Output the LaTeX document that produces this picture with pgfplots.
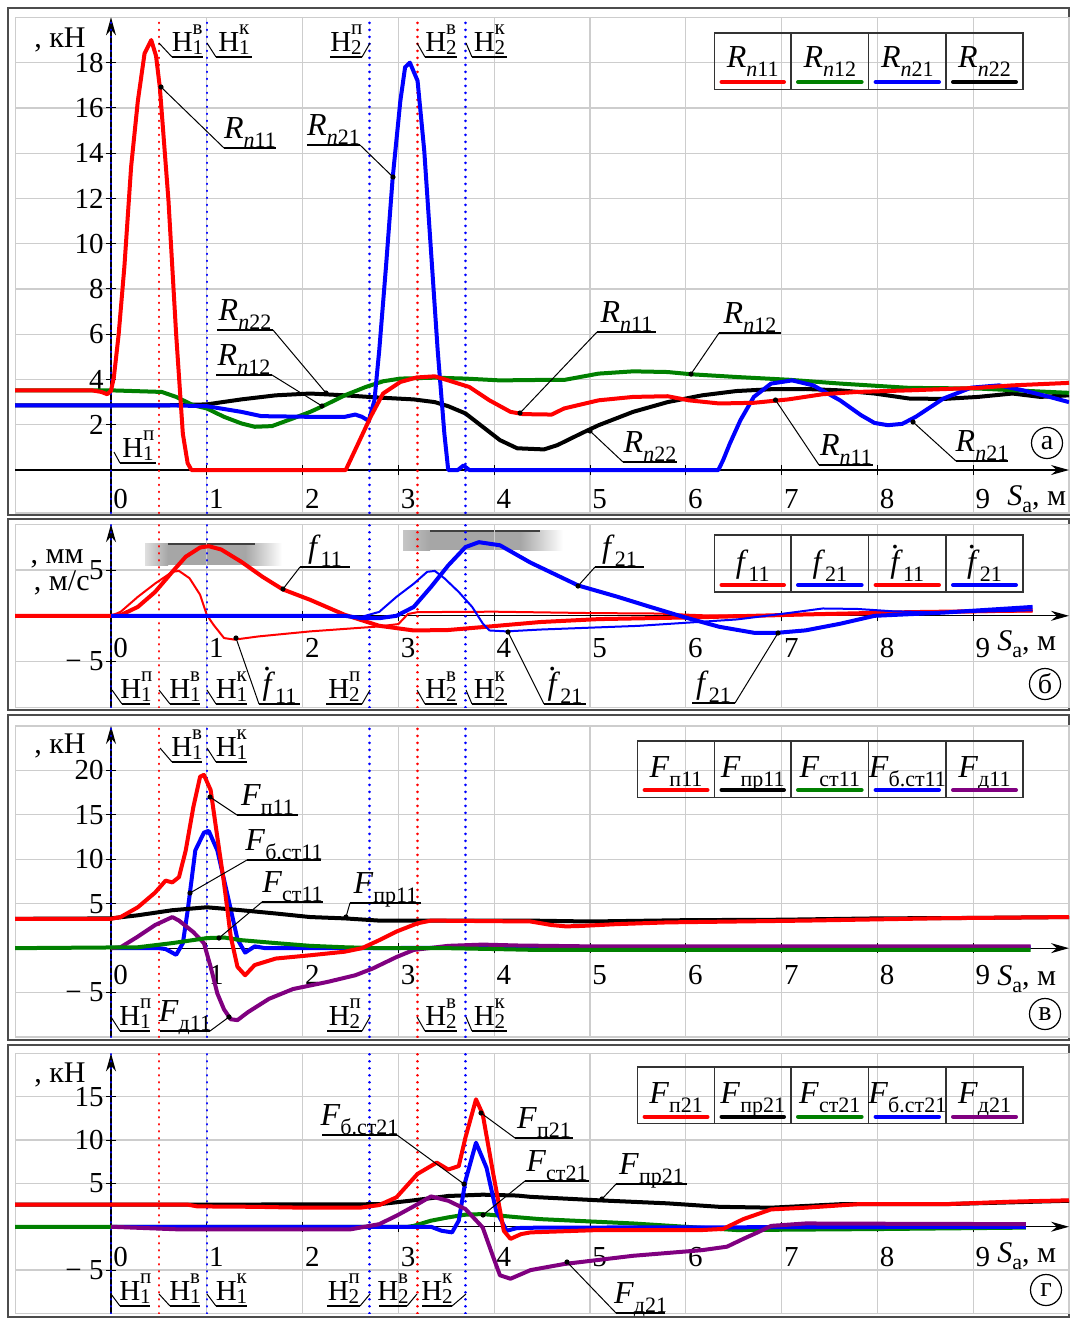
\documentclass[border=0pt]{standalone}
\usepackage{fontspec}
\setmainfont{Liberation Serif}
\usepackage{pgfplots}
\pgfplotsset{compat=1.18}
\usetikzlibrary{arrows.meta}
\definecolor{cR}{RGB}{255,0,0}
\definecolor{cG}{RGB}{0,128,0}
\definecolor{cB}{RGB}{0,0,255}
\definecolor{cP}{RGB}{128,0,128}
\definecolor{grd}{RGB}{205,205,205}
\newcommand\fs[1]{\fontsize{#1}{#1}\selectfont}
\newcommand\sub[1]{\raisebox{-4.5pt}{\fs{11}#1}}
\newcommand\Rl[1]{{\fs{16}\textit{R}\sub{\textit{n}#1}}}
\newcommand\Fl[1]{{\fs{16}\textit{F}\sub{#1}}}
\newcommand\fl[1]{{\fs{16}\textit{f}\sub{#1}}}
\newcommand\fdot{\textit{f}\llap{\raisebox{0.72em}{\textit{.}}\hspace{0.1em}}}
\newcommand\fdl[1]{{\fs{16}\fdot\sub{#1}}}
\newcommand\Hl[2]{{\fs{14.5}Н\rlap{\raisebox{8.5pt}{\fs{10.5}#2}}\raisebox{-1.5pt}{\fs{10.5}#1}}}
\newcommand\Sa{{\fs{15}\textit{S}\raisebox{-3.5pt}{\fs{11}а}, м}}
% callout with dot: dotx doty ulx1 ulx2 uly attachx text
\newcommand\co[7]{\draw[line width=0.5pt] (#1,#2) -- (#6,#5); \draw[line width=0.6pt] (#3,#5) -- (#4,#5); \fill (#1,#2) circle (1.3pt); \node[anchor=base,inner sep=0pt] at ({(#3+#4)/2},{#5-10}) {#7};}
% Н label: startx starty ulx1 ulx2 uly attachx text
\newcommand\hn[7]{\draw[line width=0.5pt] (#1,#2) -- (#6,#5); \draw[line width=0.6pt] (#3,#5) -- (#4,#5); \node[anchor=base,inner sep=0pt] at ({(#3+#4)/2},{#5-6}) {#7};}
% legend cell: xl xr ybase yline color text
\newcommand\lc[6]{\node[anchor=base,inner sep=0pt] at ({(#1+#2)/2},#3) {#6}; \draw[#5, line width=2pt, line cap=round] ({#1+7},#4) -- ({#2-7},#4);}
\newcommand\vlines[2]{%
 \draw[cB, line width=1.3pt, line cap=round, dash pattern=on 0.1pt off 3.4pt] (axis cs:0,#1) -- (axis cs:0,#2);
 \draw[cR, line width=1.3pt, line cap=round, dash pattern=on 0.1pt off 3.4pt] (axis cs:0.5,#1) -- (axis cs:0.5,#2);
 \draw[cB, line width=1.3pt, line cap=round, dash pattern=on 0.1pt off 3.4pt] (axis cs:1,#1) -- (axis cs:1,#2);
 \draw[cB, line width=1.3pt, line cap=round, dash pattern=on 0.1pt off 3.4pt] (axis cs:2.7,#1) -- (axis cs:2.7,#2);
 \draw[cR, line width=1.3pt, line cap=round, dash pattern=on 0.1pt off 3.4pt] (axis cs:3.2,#1) -- (axis cs:3.2,#2);
 \draw[cB, line width=1.3pt, line cap=round, dash pattern=on 0.1pt off 3.4pt] (axis cs:3.7,#1) -- (axis cs:3.7,#2);}
\pgfplotsset{
 panel/.style={
  scale only axis, width=526.9pt, anchor=south west,
  xmin=-1, xmax=10,
  axis lines=middle,
  axis line style={black, line width=0.6pt},
  x axis line style={-{Stealth[length=9pt,width=5pt]}},
  y axis line style={-{Stealth[length=9pt,width=5pt]}},
  xtick={0,...,9},
  xticklabels={0,1,2,3,4,5,6,7,8,9},
  grid=major, grid style={grd, line width=0.6pt},
  tick style={black, line width=0.5pt},
  major tick length=5pt,
  tick label style={font=\fs{14.5}},
  xticklabel style={anchor=north west, inner sep=0pt, xshift=1pt},
  yticklabel style={anchor=east, inner sep=1pt},
  hide obscured x ticks=false, hide obscured y ticks=false,
  every axis plot/.append style={line join=round},
 },
 thk/.style={line width=2pt},
 thn/.style={line width=1pt},
}
\begin{document}
\begin{tikzpicture}
\useasboundingbox (0,0) rectangle (535.5pt,-659pt);
\fill[white] (0,0) rectangle (535.5pt,-659pt);
\begin{scope}[x=0.5pt,y=-0.5pt]
 \draw[black!70, line width=1.1pt] (8,8) rectangle (1069,515);
 \draw[black!70, line width=1.1pt] (8,519) rectangle (1069,710);
 \draw[black!70, line width=1.1pt] (8,715) rectangle (1069,1040);
 \draw[black!70, line width=1.1pt] (8,1045) rectangle (1069,1317);
 \draw[grd, line width=0.7pt] (15.2,17.4) rectangle (1069,513);
 \draw[grd, line width=0.7pt] (15.2,524.3) rectangle (1069,707.4);
 \draw[grd, line width=0.7pt] (15.2,726) rectangle (1069,1037);
 \draw[grd, line width=0.7pt] (15.2,1053.3) rectangle (1069,1313.4);
 % blurred boxes in panel b
 \shade[left color=gray!25, right color=gray!70] (145,543) rectangle (168,565);
 \fill[gray!70] (168,543) rectangle (245,565);
 \shade[left color=gray!70, right color=white] (245,543) rectangle (282,565);
 \draw[black!75, line width=1.2pt] (168,544) -- (255,544);
 \shade[left color=gray!45, right color=gray!70] (403,530) rectangle (430,550);
 \fill[gray!70] (430,530) rectangle (520,550);
 \shade[left color=gray!70, right color=white] (520,530) rectangle (563,550);
 \draw[black!75, line width=1.2pt] (430,531) -- (540,531);
\end{scope}

% ---------------- panel a ----------------
\begin{axis}[panel, at={(7.6pt,-256.5pt)}, height=247.8pt, ymin=-1.9, ymax=20,
 ytick={2,4,...,18}, yticklabels={2,4,6,8,10,12,14,16,18},
 xticklabel style={yshift=-7pt}]
\vlines{-1.9}{20}
\addplot[black, thk] coordinates {(-1,2.86) (0.6,2.86) (1.0,2.9) (1.36,3.12) (1.72,3.3) (2.08,3.38) (2.44,3.3) (2.8,3.2) (3.16,3.12) (3.38,3.0) (3.52,2.82) (3.7,2.5) (3.88,1.91) (4.06,1.32) (4.24,0.96) (4.52,0.91) (4.66,1.1) (4.91,1.62) (5.09,1.98) (5.45,2.57) (5.81,3.0) (6.17,3.3) (6.53,3.49) (6.89,3.57) (7.25,3.58) (7.61,3.52) (7.97,3.38) (8.33,3.16) (8.69,3.14) (9.05,3.23) (9.41,3.38) (9.7,3.23) (10,3.3)};
\addplot[cG, thk] coordinates {(-1,3.52) (0,3.52) (0.53,3.45) (0.68,3.23) (0.86,2.86) (1.0,2.72) (1.18,2.35) (1.36,2.06) (1.5,1.91) (1.68,1.94) (1.9,2.28) (2.08,2.57) (2.23,2.86) (2.44,3.3) (2.66,3.67) (2.84,3.92) (3.02,4.04) (3.38,4.08) (3.7,4.04) (4.06,3.96) (4.48,3.98) (4.73,3.98) (5.09,4.26) (5.45,4.36) (5.81,4.33) (6.06,4.23) (6.53,4.11) (7.07,3.99) (7.61,3.82) (8.33,3.63) (9.05,3.6) (9.59,3.49) (10,3.41)};
\addplot[cB, thk] coordinates {(-1,2.86) (0.6,2.86) (1.0,2.82) (1.36,2.57) (1.57,2.38) (2.08,2.35) (2.44,2.35) (2.55,2.45) (2.62,2.35) (2.69,2.17) (2.75,3.08) (2.8,5.29) (2.87,8.96) (2.94,12.9) (3.02,16.3) (3.07,17.8) (3.12,18.0) (3.2,17.2) (3.27,14.1) (3.34,9.7) (3.41,5.29) (3.48,1.6) (3.52,0) (3.62,0) (3.68,0.2) (3.74,0) (6.34,0) (6.39,0.44) (6.46,1.17) (6.57,2.2) (6.71,3.23) (6.89,3.82) (7.11,3.96) (7.33,3.74) (7.61,3.08) (7.83,2.42) (7.97,2.08) (8.11,1.98) (8.26,2.04) (8.4,2.35) (8.69,3.16) (8.98,3.64) (9.27,3.74) (9.52,3.52) (9.77,3.26) (10,3.0)};
\addplot[cR, thk] coordinates {(-1,3.52) (-0.2,3.52) (-0.1,3.45) (-0.04,3.35) (0,3.5) (0.03,4.1) (0.08,6.0) (0.14,9.0) (0.21,13.4) (0.28,16.3) (0.35,18.4) (0.42,19.0) (0.47,18.3) (0.51,16.9) (0.6,11.9) (0.68,6.0) (0.75,1.6) (0.8,0.3) (0.84,0) (2.45,0) (2.58,1.17) (2.71,2.35) (2.84,3.38) (3.02,3.89) (3.19,4.09) (3.38,4.14) (3.52,3.96) (3.74,3.67) (3.95,3.08) (4.17,2.57) (4.3,2.47) (4.6,2.45) (4.73,2.72) (5.09,3.08) (5.45,3.23) (5.81,3.26) (6.03,3.08) (6.35,2.94) (6.71,2.97) (7.07,3.12) (7.43,3.35) (7.79,3.45) (8.33,3.52) (9.05,3.63) (9.41,3.74) (10,3.85)};
\end{axis}

% ---------------- panel b ----------------
\begin{axis}[panel, at={(7.6pt,-353.7pt)}, height=91.6pt, ymin=-10, ymax=10,
 ytick={-5,5}, yticklabels={−\ 5,5},
 xticklabel style={yshift=-8.5pt}]
\vlines{-10}{10}
\addplot[cR, thk] coordinates {(-1,0) (0,0) (0.1,0.07) (0.28,0.97) (0.46,2.6) (0.64,4.8) (0.78,6.45) (0.93,7.46) (1.02,7.6) (1.15,7.24) (1.36,5.9) (1.58,4.27) (1.79,2.9) (2.08,1.74) (2.44,0.11) (2.8,-1.09) (3.16,-1.6) (3.52,-1.55) (3.88,-1.23) (4.48,-0.68) (5.09,-0.36) (6.17,-0.15) (7.25,0.15) (8.33,0.4) (9.62,0.58)};
\addplot[cR, thn] coordinates {(0,0) (0.1,0.43) (0.28,2.07) (0.46,3.52) (0.64,4.8) (0.71,4.9) (0.82,4.1) (0.93,2.3) (1.0,0.1) (1.07,-0.98) (1.18,-2.43) (1.29,-2.6) (1.54,-2.25) (2.08,-1.7) (2.8,-1.16) (3.0,-0.9) (3.1,0.2) (3.2,0.4) (4.0,0.45) (5.0,0.3) (5.7,0.25) (6.2,0.05) (7.5,0.1) (8.5,0.3) (9.62,0.5)};
\addplot[cB, thk] coordinates {(0,0) (2.44,0) (2.62,-0.26) (2.8,-0.26) (2.98,0) (3.16,0.97) (3.34,3.15) (3.52,5.5) (3.7,7.5) (3.84,8.04) (4.06,7.7) (4.38,5.8) (4.88,3.3) (5.28,2.1) (5.63,0.97) (5.99,-0.17) (6.35,-1.2) (6.71,-1.85) (6.96,-1.85) (7.25,-1.59) (7.61,-0.87) (7.97,0) (8.69,0.35) (9.62,0.97)};
\addplot[cB, thn] coordinates {(0,0) (2.62,-0.1) (2.8,0.43) (2.98,2.07) (3.16,3.5) (3.3,4.8) (3.38,4.9) (3.48,4.1) (3.63,2.6) (3.77,0.97) (3.88,-0.83) (3.95,-1.6) (4.13,-1.7) (4.48,-1.5) (5.5,-1.1) (6.53,-0.4) (7.07,0.3) (7.43,0.8) (7.79,0.75) (8.15,0.5) (8.69,0.35) (9.62,0.6)};
\end{axis}

% ---------------- panel v ----------------
\begin{axis}[panel, at={(7.6pt,-518.5pt)}, height=155.5pt, ymin=-10, ymax=25,
 ytick={-5,5,10,15,20}, yticklabels={−\ 5,5,10,15,20},
 xticklabel style={yshift=-6pt}]
\vlines{-10}{25}
\addplot[cB, thk] coordinates {(0,0) (0.5,0) (0.57,-0.1) (0.68,-0.75) (0.75,0.56) (0.8,4.2) (0.88,11.0) (0.97,13.0) (1.02,13.2) (1.11,11.0) (1.22,5.8) (1.32,1.0) (1.4,-0.5) (1.5,0.2) (1.61,0) (9.6,0.1)};
\addplot[cP, thk] coordinates {(0,0) (0.1,0.1) (0.28,1.3) (0.46,2.6) (0.64,3.5) (0.71,3.1) (0.86,1.8) (0.97,0.56) (1.04,-2.1) (1.11,-5.1) (1.18,-6.9) (1.25,-8.0) (1.32,-8.1) (1.43,-7.2) (1.65,-5.7) (1.9,-4.6) (2.26,-3.8) (2.55,-3.05) (2.73,-2.3) (2.98,-1.0) (3.16,-0.2) (3.52,0.26) (3.88,0.4) (4.24,0.3) (5,0.2) (9.6,0.2)};
\addplot[cG, thk] coordinates {(-1,0) (0.28,0.1) (0.64,0.57) (1.0,1.13) (1.18,1.2) (1.36,0.9) (1.72,0.57) (2.08,0.26) (2.44,0.1) (2.8,0) (3.5,0) (4.0,-0.1) (4.4,-0.19) (9.6,-0.19)};
\addplot[black, thk] coordinates {(-1,3.3) (0,3.35) (0.28,3.7) (0.64,4.27) (1.0,4.6) (1.36,4.27) (1.72,3.9) (2.08,3.5) (2.44,3.35) (2.8,3.1) (4.38,3.1) (5.0,3.0) (6,3.15) (7,3.2) (8,3.35) (9,3.4) (10,3.5)};
\addplot[cR, thk] coordinates {(-1,3.3) (0,3.3) (0.1,3.5) (0.28,4.6) (0.46,6.25) (0.57,7.6) (0.64,7.4) (0.71,8.0) (0.78,11.0) (0.86,15.9) (0.93,19.3) (0.97,19.5) (1.04,17.8) (1.11,12.5) (1.18,7.3) (1.25,1.3) (1.32,-2.1) (1.4,-3.05) (1.5,-1.9) (1.72,-1.17) (2.08,-0.8) (2.44,-0.4) (2.62,0) (2.8,0.9) (2.98,1.87) (3.2,2.8) (3.34,3.1) (4.38,3.0) (4.6,2.6) (4.75,2.45) (4.91,2.5) (5.27,2.7) (5.81,2.9) (7.25,3.1) (8.69,3.37) (10,3.5)};
\end{axis}

% ---------------- panel g ----------------
\begin{axis}[panel, at={(7.6pt,-656.7pt)}, height=130pt, ymin=-10, ymax=20,
 ytick={-5,5,10,15}, yticklabels={−\ 5,5,10,15},
 xticklabel style={yshift=-7.5pt}]
\vlines{-10}{20}
\addplot[black, thk] coordinates {(-1,2.55) (0.9,2.55) (2.8,2.6) (3.16,3.05) (3.52,3.55) (3.88,3.7) (4.24,3.6) (4.38,3.45) (5.09,3.05) (5.81,2.7) (6.35,2.3) (6.89,2.2) (7.61,2.6) (8.69,2.6) (10,3.0)};
\addplot[cG, thk] coordinates {(-1,0) (3.1,0) (3.16,0.1) (3.34,0.7) (3.52,1.08) (3.7,1.4) (3.88,1.46) (4.24,1.1) (4.48,0.88) (5.45,0.38) (6.53,-0.38) (7.97,-0.27) (9.55,-0.1)};
\addplot[cB, thk] coordinates {(0,0) (3.34,0) (3.45,-0.46) (3.56,-0.65) (3.63,0.7) (3.7,5.3) (3.81,9.7) (3.92,6.8) (4.02,1.85) (4.13,-0.46) (4.24,-0.15) (4.48,-0.1) (9.55,0)};
\addplot[cP, thk] coordinates {(0,0) (0.7,-0.3) (2.5,-0.3) (2.8,0.3) (2.98,1.27) (3.2,2.6) (3.34,3.5) (3.52,3.0) (3.7,2.04) (3.88,-0.08) (3.99,-3.5) (4.06,-5.6) (4.17,-6.0) (4.38,-5.0) (4.73,-4.3) (5.45,-3.35) (6.17,-2.7) (6.43,-2.3) (6.6,-1.4) (6.75,-0.65) (6.89,0.1) (7.25,0.38) (7.97,0.35) (9.55,0.3)};
\addplot[cR, thk] coordinates {(-1,2.55) (0.8,2.55) (0.9,2.35) (1.5,2.3) (2.0,2.2) (2.6,2.2) (2.8,2.5) (2.98,3.4) (3.2,6.1) (3.4,7.4) (3.52,6.6) (3.63,7.0) (3.7,10.3) (3.81,14.7) (3.88,13.0) (3.99,6.1) (4.1,-0.46) (4.17,-1.4) (4.28,-0.85) (4.38,-0.65) (5.09,-0.38) (6.17,-0.38) (6.39,-0.25) (6.6,0.88) (6.89,2.0) (7.25,2.2) (7.79,2.6) (8.69,2.6) (9.41,2.9) (10,3.05)};
\end{axis}

% ---------------- annotations ----------------
\begin{scope}[x=0.5pt,y=-0.5pt]
 % axis labels
 \node[anchor=base east, inner sep=0pt] at (86,47) {\fs{15}, кН};
 \node[anchor=base east, inner sep=0pt] at (84,563) {\fs{15}, мм};
 \node[anchor=base east, inner sep=0pt] at (90,590) {\fs{15}, м/с};
 \node[anchor=base east, inner sep=0pt] at (86,753) {\fs{15}, кН};
 \node[anchor=base east, inner sep=0pt] at (86,1082) {\fs{15}, кН};
 \node[anchor=base west, inner sep=0pt] at (1007,505) {\Sa};
 \node[anchor=base west, inner sep=0pt] at (997,650) {\Sa};
 \node[anchor=base west, inner sep=0pt] at (997,985) {\Sa};
 \node[anchor=base west, inner sep=0pt] at (997,1262) {\Sa};
 % circled letters
 \node[draw, circle, line width=0.6pt, minimum size=15.5pt, inner sep=0pt] at (1047,443) {\fs{14}а};
 \node[draw, circle, line width=0.6pt, minimum size=15.5pt, inner sep=0pt] at (1045,684) {\fs{14}б};
 \node[draw, circle, line width=0.6pt, minimum size=15.5pt, inner sep=0pt] at (1045,1014) {\fs{14}в};
 \node[draw, circle, line width=0.6pt, minimum size=15.5pt, inner sep=0pt] at (1046,1290) {\fs{14}г};
 % legend a
 \draw[black!80, line width=0.8pt] (714.5,32.7) rectangle (1023,89.3);
 \foreach \xx in {791,868.6,946} {\draw[black!80, line width=0.8pt] (\xx,32.7) -- (\xx,89.3);}
 \lc{714.5}{791}{67}{82}{cR}{\Rl{11}}
 \lc{791}{868.6}{67}{82}{cG}{\Rl{12}}
 \lc{868.6}{946}{67}{82}{cB}{\Rl{21}}
 \lc{946}{1023}{67}{82}{black}{\Rl{22}}
 % legend b
 \draw[black!80, line width=0.8pt] (714.5,535) rectangle (1023,591.7);
 \foreach \xx in {791,868.6,946} {\draw[black!80, line width=0.8pt] (\xx,535) -- (\xx,591.7);}
 \lc{714.5}{791}{572}{585}{cR}{\fl{11}}
 \lc{791}{868.6}{572}{585}{cB}{\fl{21}}
 \lc{868.6}{946}{572}{585}{cR, line width=1.2pt}{\fdl{11}}
 \lc{946}{1023}{572}{585}{cB, line width=1.2pt}{\fdl{21}}
 % legend v
 \draw[black!80, line width=0.8pt] (637.6,740.7) rectangle (1023,797.3);
 \foreach \xx in {714.5,791,868.6,946} {\draw[black!80, line width=0.8pt] (\xx,740.7) -- (\xx,797.3);}
 \lc{637.6}{714.5}{777}{790}{cR}{\Fl{п11}}
 \lc{714.5}{791}{777}{790}{black}{\Fl{пр11}}
 \lc{791}{868.6}{777}{790}{cG}{\Fl{ст11}}
 \lc{868.6}{946}{777}{790}{cB}{\Fl{б.ст11}}
 \lc{946}{1023}{777}{790}{cP}{\Fl{д11}}
 % legend g
 \draw[black!80, line width=0.8pt] (637.6,1066.7) rectangle (1023,1123.3);
 \foreach \xx in {714.5,791,868.6,946} {\draw[black!80, line width=0.8pt] (\xx,1066.7) -- (\xx,1123.3);}
 \lc{637.6}{714.5}{1103}{1116.7}{cR}{\Fl{п21}}
 \lc{714.5}{791}{1103}{1116.7}{black}{\Fl{пр21}}
 \lc{791}{868.6}{1103}{1116.7}{cG}{\Fl{ст21}}
 \lc{868.6}{946}{1103}{1116.7}{cB}{\Fl{б.ст21}}
 \lc{946}{1023}{1103}{1116.7}{cP}{\Fl{д21}}
 % panel a callouts
 \co{161}{87}{224}{276}{148}{224}{\Rl{11}}
 \co{393}{177}{307}{360}{145}{360}{\Rl{21}}
 \co{326}{393}{217}{273}{330}{273}{\Rl{22}}
 \co{322}{406}{216}{272}{375}{272}{\Rl{12}}
 \co{520}{413}{597}{656}{332}{597}{\Rl{11}}
 \co{691}{374}{719}{781}{333}{719}{\Rl{12}}
 \co{590}{431}{623}{677}{462}{623}{\Rl{22}}
 \co{775.5}{400}{819}{873}{465}{819}{\Rl{11}}
 \co{913}{422}{956}{1008}{461}{956}{\Rl{21}}
 \hn{114}{452}{120}{156}{463}{120}{\Hl{1}{п}}
 \hn{159}{43}{172}{203}{57}{172}{\Hl{1}{в}}
 \hn{207}{43}{216}{252}{57}{216}{\Hl{1}{к}}
 \hn{370}{43}{330}{362}{57}{362}{\Hl{2}{п}}
 \hn{417}{43}{425}{457}{57}{425}{\Hl{2}{в}}
 \hn{466}{43}{472}{507}{57}{472}{\Hl{2}{к}}
 % panel b callouts
 \co{283}{589}{300}{350}{567}{300}{\fl{11}}
 \co{236}{638}{259}{300}{704}{259}{\fdl{11}}
 \co{508}{632}{544}{586}{704}{544}{\fdl{21}}
 \co{578}{586}{595}{644}{567}{595}{\fl{21}}
 \co{778}{633}{692}{735}{703}{735}{\fl{21}}
 \hn{112}{690}{122}{150}{704}{122}{\Hl{1}{п}}
 \hn{159}{690}{170}{200}{704}{170}{\Hl{1}{в}}
 \hn{207}{690}{216}{247}{704}{216}{\Hl{1}{к}}
 \hn{370}{690}{326}{362}{704}{362}{\Hl{2}{п}}
 \hn{417}{690}{425}{457}{704}{425}{\Hl{2}{в}}
 \hn{466}{690}{472}{507}{704}{472}{\Hl{2}{к}}
 % panel v callouts
 \hn{160}{748}{172}{202}{762}{172}{\Hl{1}{в}}
 \hn{207}{748}{216}{247}{762}{216}{\Hl{1}{к}}
 \co{210}{797}{237}{298}{815}{237}{\Fl{п11}}
 \co{190}{893}{247}{321}{860}{247}{\Fl{б.ст11}}
 \co{219}{938}{262}{323}{902}{262}{\Fl{ст11}}
 \co{346}{917}{350}{421}{903}{350}{\Fl{пр11}}
 \co{229}{1017}{160}{210}{1031}{210}{\Fl{д11}}
 \hn{111}{1017}{120}{150}{1031}{120}{\Hl{1}{п}}
 \hn{370}{1017}{327}{362}{1031}{362}{\Hl{2}{п}}
 \hn{417}{1017}{425}{457}{1031}{425}{\Hl{2}{в}}
 \hn{466}{1017}{472}{507}{1031}{472}{\Hl{2}{к}}
 % panel g callouts
 \co{464}{1184}{322}{397}{1135}{397}{\Fl{б.ст21}}
 \co{481}{1113}{515}{573}{1138}{515}{\Fl{п21}}
 \co{483}{1215}{525}{589}{1181}{525}{\Fl{ст21}}
 \co{602}{1199}{616}{687}{1184}{616}{\Fl{пр21}}
 \co{567}{1262}{616}{665}{1313}{616}{\Fl{д21}}
 \hn{111}{1294}{120}{150}{1306}{120}{\Hl{1}{п}}
 \hn{159}{1294}{170}{200}{1306}{170}{\Hl{1}{в}}
 \hn{207}{1294}{216}{247}{1306}{216}{\Hl{1}{к}}
 \hn{370}{1294}{327}{360}{1306}{360}{\Hl{2}{п}}
 \hn{417}{1294}{379}{407}{1306}{407}{\Hl{2}{в}}
 \hn{466}{1294}{422}{452}{1306}{452}{\Hl{2}{к}}
\end{scope}
\end{tikzpicture}
\end{document}
